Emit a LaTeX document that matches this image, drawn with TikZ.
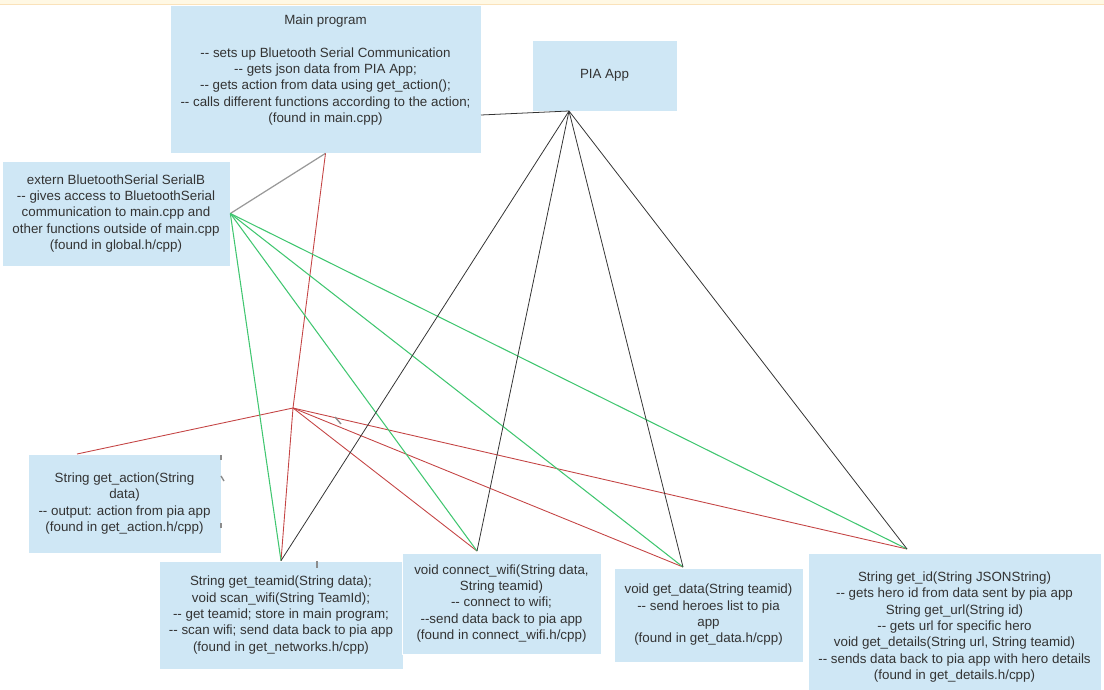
\documentclass[tikz,border=0pt]{standalone}
\usepackage{fontspec}
\setmainfont{Liberation Sans}
\definecolor{boxblue}{RGB}{207,231,245}
\definecolor{textgray}{RGB}{51,51,51}
\definecolor{redwire}{RGB}{196,68,68}
\definecolor{greenwire}{RGB}{64,198,112}
\definecolor{stripfill}{RGB}{255,248,228}
\definecolor{stripedge}{RGB}{250,226,186}
\newcommand{\dsh}{-\kern0pt-}

\begin{document}
\begin{tikzpicture}[x=0.02cm,y=-0.02cm,
	box/.style={rectangle,fill=boxblue,draw=white,line width=0.4pt,text=textgray,align=center,inner sep=0pt,font=\fontsize{7.6}{9.3}\selectfont},
	redline/.style={draw=redwire,line width=0.5pt},
	greenline/.style={draw=greenwire,line width=0.6pt},
	blackline/.style={draw=textgray,line width=0.45pt},
	grayline/.style={draw=gray!80,line width=0.7pt},
	stub/.style={draw=gray!90,line width=0.8pt}]
	\useasboundingbox (0,0) rectangle (1104,689);
	\fill[stripfill] (0,0) rectangle (1104,4);
	\draw[stripedge] (0,4) -- (1104,4);

	% boxes
	\node[box,minimum width=6.22cm,minimum height=2.96cm] (main) at (325.5,79) {Main program\\[9.3pt]\dsh{} sets up Bluetooth Serial Communication\\\dsh{} gets json data from PIA App;\\\dsh{} gets action from data using get\_action();\\\dsh{} calls different functions according to the action;\\(found in main.cpp)\\[2.6pt]\mbox{}};
	\node[box,minimum width=2.9cm,minimum height=1.42cm] (pia) at (604.5,75.5) {PIA App};
	\node[box,minimum width=4.56cm,minimum height=2.1cm] (extern) at (116,213.5) {extern BluetoothSerial SerialB\\\dsh{} gives access to BluetoothSerial\\communication to main.cpp and\\other functions outside of main.cpp\\(found in global.h/cpp)};
	\node[box,minimum width=3.86cm,minimum height=1.98cm] (action) at (124.5,503.5) {String get\_action(String\\data)\\\dsh{} output: action from pia app\\(found in get\_action.h/cpp)};
	\node[box,minimum width=4.88cm,minimum height=2.16cm] (teamid) at (281,615) {String get\_teamid(String data);\\void scan\_wifi(String TeamId);\\\dsh{} get teamid; store in main program;\\\dsh{} scan wifi; send data back to pia app\\(found in get\_networks.h/cpp)};
	\node[box,minimum width=3.98cm,minimum height=2.02cm] (wifi) at (501.5,603.5) {void connect\_wifi(String data,\\String teamid)\\\dsh{} connect to wifi;\\\dsh send data back to pia app\\(found in connect\_wifi.h/cpp)};
	\node[box,minimum width=3.78cm,minimum height=1.88cm] (data) at (708.5,615) {void get\_data(String teamid)\\\dsh{} send heroes list to pia\\app\\(found in get\_data.h/cpp)};
	\node[box,minimum width=5.86cm,minimum height=2.96cm] (details) at (954.5,627) {String get\_id(String JSONString)\\\dsh{} gets hero id from data sent by pia app\\String get\_url(String id)\\\dsh{} gets url for specific hero\\void get\_details(String url, String teamid)\\\dsh{} sends data back to pia app with hero details\\(found in get\_details.h/cpp)};

	% pins
	\coordinate (mainPin) at (481,115);
	\coordinate (piaPin) at (569,111);
	\coordinate (hub) at (293,408);
	\coordinate (actionPin) at (77,454);
	\coordinate (wifiPin) at (477,551);
	\coordinate (dataPin) at (683,567);
	\coordinate (detailsPin) at (907,549);

	% wires
	\path[blackline] (mainPin) edge (piaPin);
	\path[grayline] (extern.east) edge (main.south);
	\path[redline] (main.south) edge (hub);
	\path[redline] (hub) edge (teamid.north) edge (actionPin) edge (wifiPin) edge (dataPin) edge (detailsPin);
	\path[greenline] (extern.east) edge (teamid.north) edge (wifiPin) edge (dataPin) edge (detailsPin);
	\path[blackline] (piaPin) edge (teamid.north) edge (wifiPin) edge (dataPin) edge (detailsPin);

	% stray stubs
	\draw[stub] (335,417) -- (341,424);
	\draw[stub] (221,455) -- (221,460);
	\draw[stub] (221,476) -- (224,481);
	\draw[stub] (221,523) -- (221,528);
	\draw[stub] (317,561) -- (317,568);
\end{tikzpicture}
\end{document}
